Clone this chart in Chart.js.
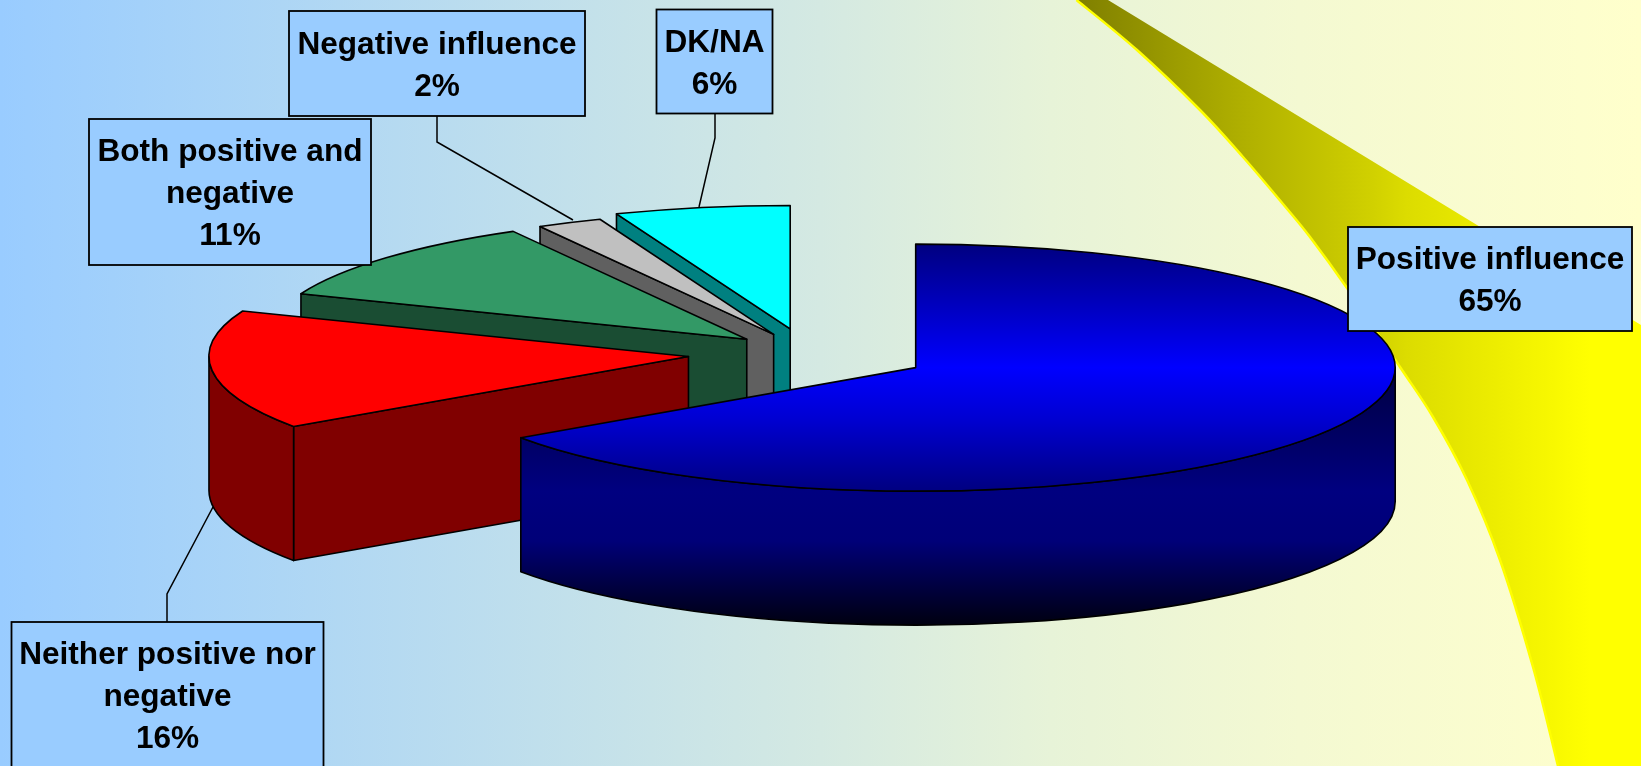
<!DOCTYPE html>
<html>
<head>
<meta charset="utf-8">
<title>Influence pie</title>
<script src="https://cdn.jsdelivr.net/npm/chart.js@4/dist/chart.umd.min.js"></script>
<style>
html,body{margin:0;padding:0;width:1641px;height:766px;overflow:hidden;background:#fff}
canvas{display:block}
</style>
</head>
<body>
<canvas id="c" width="1641" height="766"></canvas>
<script>
const categories = ['Positive influence', 'Neither positive nor negative', 'Both positive and negative', 'Negative influence', 'DK/NA'];
const shares = [65.4, 15.6, 10.9, 2.2, 5.9];
const labelLines = [['Positive influence'], ['Neither positive nor', 'negative'], ['Both positive and', 'negative'], ['Negative influence'], ['DK/NA']];

// ---- styling, separate from the data ----
const topColors = ['#0000FF', '#FF0000', '#339966', '#C0C0C0', '#00FFFF'];
const wallColors = ['#000080', '#800000', '#1A4D33', '#606060', '#008080'];
const explodePx = [122, 120, 81, 80, 95];
const pieRadius = 479.5, squash = 0.2576, depth = 134;
const labelBoxes = [[1348, 227, 284, 104], [11.5, 622, 312, 146], [89, 119, 282, 146], [289, 11, 296, 105], [656.5, 9.5, 116, 104]];
const leaders = [[], [[167, 622], [167, 594], [213, 507]], [], [[437, 116], [437, 142], [573, 220]], [[715, 113], [715, 138], [699, 207]]];
const swooshEdge = [[1076.5, 0], [1137, 50], [1200, 110], [1243, 157], [1283, 204], [1310, 237], [1347, 288], [1400, 367], [1433, 417], [1467, 480], [1500, 560], [1533, 667], [1558, 766]];

function traceSmooth(ctx, p) {
  ctx.moveTo(p[0][0], p[0][1]);
  for (let i = 0; i < p.length - 1; i++) {
    const a = p[Math.max(i - 1, 0)], b = p[i], c = p[i + 1], d = p[Math.min(i + 2, p.length - 1)];
    ctx.bezierCurveTo(b[0] + (c[0] - a[0]) / 6, b[1] + (c[1] - a[1]) / 6, c[0] - (d[0] - b[0]) / 6, c[1] - (d[1] - b[1]) / 6, c[0], c[1]);
  }
}

const backdrop = {
  id: 'backdrop',
  beforeDraw(chart) {
    const ctx = chart.ctx, W = chart.width, H = chart.height;
    ctx.save();
    let g = ctx.createLinearGradient(0, 0, W, 0);
    g.addColorStop(0, '#99CCFF');
    g.addColorStop(0.5, '#D4E9E2');
    g.addColorStop(0.64, '#E7F3D8');
    g.addColorStop(0.792, '#F4F9D2');
    g.addColorStop(1, '#FFFFCC');
    ctx.fillStyle = g;
    ctx.fillRect(0, 0, W, H);
    g = ctx.createLinearGradient(1080, 0, 1590, 0);
    g.addColorStop(0, '#808000');
    g.addColorStop(0.3, '#ADAD00');
    g.addColorStop(0.57, '#D0D000');
    g.addColorStop(0.64, '#DCDC00');
    g.addColorStop(1, '#FFFF00');
    ctx.beginPath();
    traceSmooth(ctx, swooshEdge);
    ctx.lineTo(W, H);
    ctx.lineTo(W, 325);
    ctx.lineTo(1108, 0);
    ctx.closePath();
    ctx.fillStyle = g;
    ctx.fill();
    ctx.beginPath();
    traceSmooth(ctx, swooshEdge);
    ctx.strokeStyle = '#FFFF00';
    ctx.lineWidth = 2.5;
    ctx.stroke();
    ctx.restore();
  }
};

function blueGradient(ctx, stops) {
  const a = stops[0][0], b = stops[stops.length - 1][0];
  const g = ctx.createLinearGradient(0, a, 0, b);
  stops.forEach(s => g.addColorStop((s[0] - a) / (b - a), s[1]));
  return g;
}

const pie3d = {
  id: 'pie3d',
  beforeDatasetDraw(chart, args) {
    const ctx = chart.ctx, arcs = args.meta.data;
    ctx.save();
    ctx.lineJoin = 'round';
    ctx.strokeStyle = '#000';
    ctx.lineWidth = 1.6;
    for (let i = arcs.length - 1; i >= 0; i--) {
      const arc = arcs[i], a0 = arc.startAngle, a1 = arc.endAngle, R = arc.outerRadius, r2 = R * squash;
      const mid = (a0 + a1) / 2, off = arc.options.offset;
      const cx = arc.x + Math.cos(mid) * off, cy = arc.y + Math.sin(mid) * off * squash;
      const px = a => cx + R * Math.cos(a), py = a => cy + r2 * Math.sin(a);
      const wall = i === 0
        ? blueGradient(ctx, [[cy, '#000040'], [cy + r2, '#000080'], [cy + r2 + 50, '#000078'], [cy + r2 + depth, '#000010']])
        : wallColors[i];
      const top = i === 0
        ? blueGradient(ctx, [[cy - r2, '#000080'], [cy, '#0000FF'], [cy + r2 * 0.43, '#0000D0'], [cy + r2, '#000080']])
        : topColors[i];
      ctx.fillStyle = wall;
      const quad = a => {
        ctx.beginPath();
        ctx.moveTo(cx, cy);
        ctx.lineTo(px(a), py(a));
        ctx.lineTo(px(a), py(a) + depth);
        ctx.lineTo(cx, cy + depth);
        ctx.closePath();
        ctx.fill();
        ctx.stroke();
      };
      if (Math.cos(a0) < -1e-6) quad(a0);
      if (Math.cos(a1) > 1e-6) quad(a1);
      const s = Math.max(a0, 0), e = Math.min(a1, Math.PI);
      if (e > s) {
        ctx.beginPath();
        ctx.ellipse(cx, cy, R, r2, 0, s, e, false);
        ctx.ellipse(cx, cy + depth, R, r2, 0, e, s, true);
        ctx.closePath();
        ctx.fill();
        ctx.stroke();
      }
      ctx.fillStyle = top;
      ctx.beginPath();
      ctx.moveTo(cx, cy);
      ctx.ellipse(cx, cy, R, r2, 0, a0, a1, false);
      ctx.closePath();
      ctx.fill();
      ctx.stroke();
    }
    ctx.restore();
    return false;
  }
};

const callouts = {
  id: 'callouts',
  afterDatasetsDraw(chart) {
    const ctx = chart.ctx, values = chart.data.datasets[0].data;
    ctx.save();
    ctx.strokeStyle = '#000';
    ctx.lineWidth = 1.5;
    leaders.forEach(l => {
      if (!l.length) return;
      ctx.beginPath();
      l.forEach((p, j) => j ? ctx.lineTo(p[0], p[1]) : ctx.moveTo(p[0], p[1]));
      ctx.stroke();
    });
    ctx.font = 'bold 31.6px "Liberation Sans", Arial, sans-serif';
    ctx.textAlign = 'center';
    ctx.textBaseline = 'middle';
    labelBoxes.forEach((b, i) => {
      ctx.fillStyle = '#99CCFF';
      ctx.fillRect(b[0], b[1], b[2], b[3]);
      ctx.lineWidth = 1.8;
      ctx.strokeRect(b[0], b[1], b[2], b[3]);
      const lines = labelLines[i].concat(Math.round(values[i]) + '%');
      ctx.fillStyle = '#000';
      lines.forEach((t, j) => {
        ctx.fillText(t, b[0] + b[2] / 2, b[1] + b[3] / 2 + (j - (lines.length - 1) / 2) * 42 + 2.5);
      });
    });
    ctx.restore();
  }
};

new Chart(document.getElementById('c'), {
  type: 'pie',
  data: {
    labels: categories,
    datasets: [{
      data: shares,
      backgroundColor: topColors,
      borderColor: '#000',
      offset: explodePx,
      radius: pieRadius
    }]
  },
  options: {
    responsive: false,
    animation: false,
    devicePixelRatio: 1,
    layout: { padding: { left: 0, top: 0, right: 25.6, bottom: 60 } },
    plugins: { legend: { display: false }, tooltip: { enabled: false }, title: { display: false } }
  },
  plugins: [backdrop, pie3d, callouts]
});
</script>
</body>
</html>
